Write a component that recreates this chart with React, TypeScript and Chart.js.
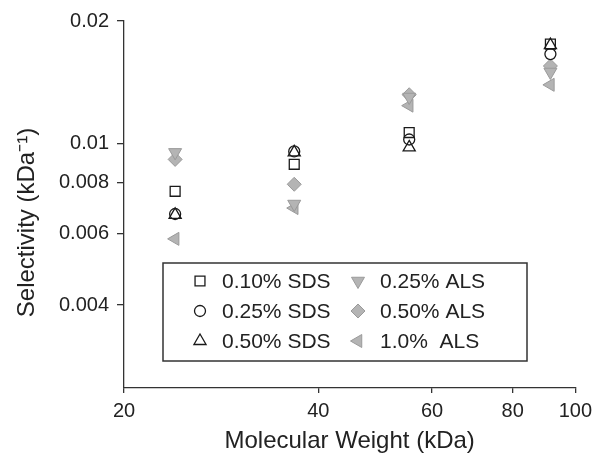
import React, { useEffect, useRef } from 'react';
import { Chart, registerables } from 'chart.js';
import { drawPoint } from 'chart.js/helpers';

Chart.register(...registerables);

// ---- data ----
const molecularWeights = [24.0, 36.7, 55.3, 91.5];
const sds010 = [0.00762, 0.00888, 0.01063, 0.01754];
const sds025 = [0.0067, 0.00955, 0.01022, 0.01658];
const sds050 = [0.00667, 0.0095, 0.00977, 0.01745];
const als025 = [0.0095, 0.00709, 0.0130, 0.01498];
const als050 = [0.00913, 0.00793, 0.01317, 0.0155];
const als100 = [0.00582, 0.00693, 0.01238, 0.01393];
const seriesLabels = ['0.10% SDS', '0.25% SDS', '0.50% SDS', '0.25% ALS', '0.50% ALS', '1.0%  ALS'];
const xTicks = [20, 40, 60, 80, 100];
const yTicks = [0.004, 0.006, 0.008, 0.01, 0.02];
const yTickLabels = ['0.004', '0.006', '0.008', '0.01', '0.02'];
const xTitle = 'Molecular Weight (kDa)';
const yTitle = 'Selectivity (kDa\u207B\u00B9)';

const FONT = 'Liberation Sans, Arial, Helvetica, sans-serif';
const TEXT = '#222';
const AXIS = '#333';
const GRAY_FILL = '#b4b4b4';
const GRAY_LINE = '#9a9a9a';

const legendPlugin = {
  id: 'boxLegend',
  afterDatasetsDraw(chart: any) {
    const { ctx, chartArea } = chart;
    const bx = chartArea.left + 39;
    const by = chartArea.top + 242;
    const bw = 364;
    const bh = 98;
    ctx.save();
    ctx.strokeStyle = AXIS;
    ctx.lineWidth = 1.5;
    ctx.strokeRect(bx, by, bw, bh);
    chart.data.datasets.forEach((ds: any, i: number) => {
      const col = Math.floor(i / 3);
      const row = i % 3;
      const mx = bx + 37 + col * 158;
      const my = by + 18 + row * 30;
      ctx.fillStyle = ds.backgroundColor;
      ctx.strokeStyle = ds.borderColor;
      ctx.lineWidth = ds.borderWidth;
      drawPoint(ctx, { pointStyle: ds.pointStyle, rotation: ds.rotation || 0, radius: ds.pointRadius, borderWidth: ds.borderWidth }, mx, my);
      ctx.fillStyle = TEXT;
      ctx.font = `21px ${FONT}`;
      ctx.textAlign = 'left';
      ctx.textBaseline = 'middle';
      ctx.fillText(ds.label, mx + 22, my + 1);
    });
    ctx.restore();
  },
};

const yTitlePlugin = {
  id: 'yTitle',
  afterDraw(chart: any) {
    const { ctx, chartArea } = chart;
    ctx.save();
    ctx.translate(27, (chartArea.top + chartArea.bottom) / 2 + 18);
    ctx.rotate(-Math.PI / 2);
    ctx.fillStyle = TEXT;
    ctx.font = `24px ${FONT}`;
    ctx.textAlign = 'center';
    ctx.textBaseline = 'middle';
    ctx.fillText(yTitle, 0, 0);
    ctx.restore();
  },
};

function mk(label: string, ys: number[], style: string, rotation: number, radius: number, gray: boolean) {
  return {
    label,
    data: molecularWeights.map((x, i) => ({ x, y: ys[i] })),
    pointStyle: style,
    rotation,
    pointRadius: radius,
    pointHoverRadius: radius,
    backgroundColor: gray ? GRAY_FILL : 'rgba(0,0,0,0)',
    borderColor: gray ? GRAY_LINE : '#1a1a1a',
    borderWidth: gray ? 1 : 1.3,
    showLine: false,
  };
}

export default function App() {
  const ref = useRef<HTMLCanvasElement>(null);
  useEffect(() => {
    if (!ref.current) return;
    const chart = new Chart(ref.current, {
      type: 'scatter',
      data: {
        datasets: [
          mk(seriesLabels[0], sds010, 'rect', 0, 7, false),
          mk(seriesLabels[1], sds025, 'circle', 0, 5.5, false),
          mk(seriesLabels[2], sds050, 'triangle', 0, 7, false),
          mk(seriesLabels[3], als025, 'triangle', 180, 7.5, true),
          mk(seriesLabels[4], als050, 'rectRot', 0, 7, true),
          mk(seriesLabels[5], als100, 'triangle', -90, 7.5, true),
        ],
      },
      options: {
        animation: false,
        responsive: false,
        layout: { padding: { top: 21, right: 18, left: 0, bottom: 0 } },
        plugins: { legend: { display: false }, tooltip: { enabled: false } },
        scales: {
          x: {
            type: 'logarithmic',
            min: 20,
            max: 100,
            afterBuildTicks: (s: any) => { s.ticks = xTicks.map((v) => ({ value: v })); },
            afterFit: (s: any) => { s.height = 68; },
            ticks: {
              callback: (v: any) => String(v),
              font: { family: FONT, size: 20 },
              color: TEXT,
              padding: 6,
              autoSkip: false,
              maxRotation: 0,
            },
            grid: { display: true, drawOnChartArea: false, drawTicks: true, tickLength: 5, color: AXIS, lineWidth: 1.3 },
            border: { display: true, color: AXIS, width: 1.3 },
            title: {
              display: true,
              text: xTitle,
              font: { family: FONT, size: 24 },
              color: TEXT,
              padding: { top: 0, bottom: 0 },
            },
          },
          y: {
            type: 'logarithmic',
            min: 0.0025,
            max: 0.02,
            afterBuildTicks: (s: any) => { s.ticks = yTicks.map((v) => ({ value: v })); },
            afterFit: (s: any) => { s.width = 124; },
            ticks: {
              callback: (v: any) => yTickLabels[yTicks.indexOf(v)],
              font: { family: FONT, size: 20 },
              color: TEXT,
              padding: 8,
              autoSkip: false,
            },
            grid: { display: true, drawOnChartArea: false, drawTicks: true, tickLength: 7, color: AXIS, lineWidth: 1.3 },
            border: { display: true, color: AXIS, width: 1.3 },
            title: { display: false },
          },
        },
      },
      plugins: [legendPlugin, yTitlePlugin],
    });
    return () => chart.destroy();
  }, []);
  return (
    <div style={{ position: 'absolute', left: 0, top: 0, width: 598, height: 456, background: '#fff' }}>
      <canvas ref={ref} width={598} height={456} style={{ display: 'block' }} />
    </div>
  );
}
